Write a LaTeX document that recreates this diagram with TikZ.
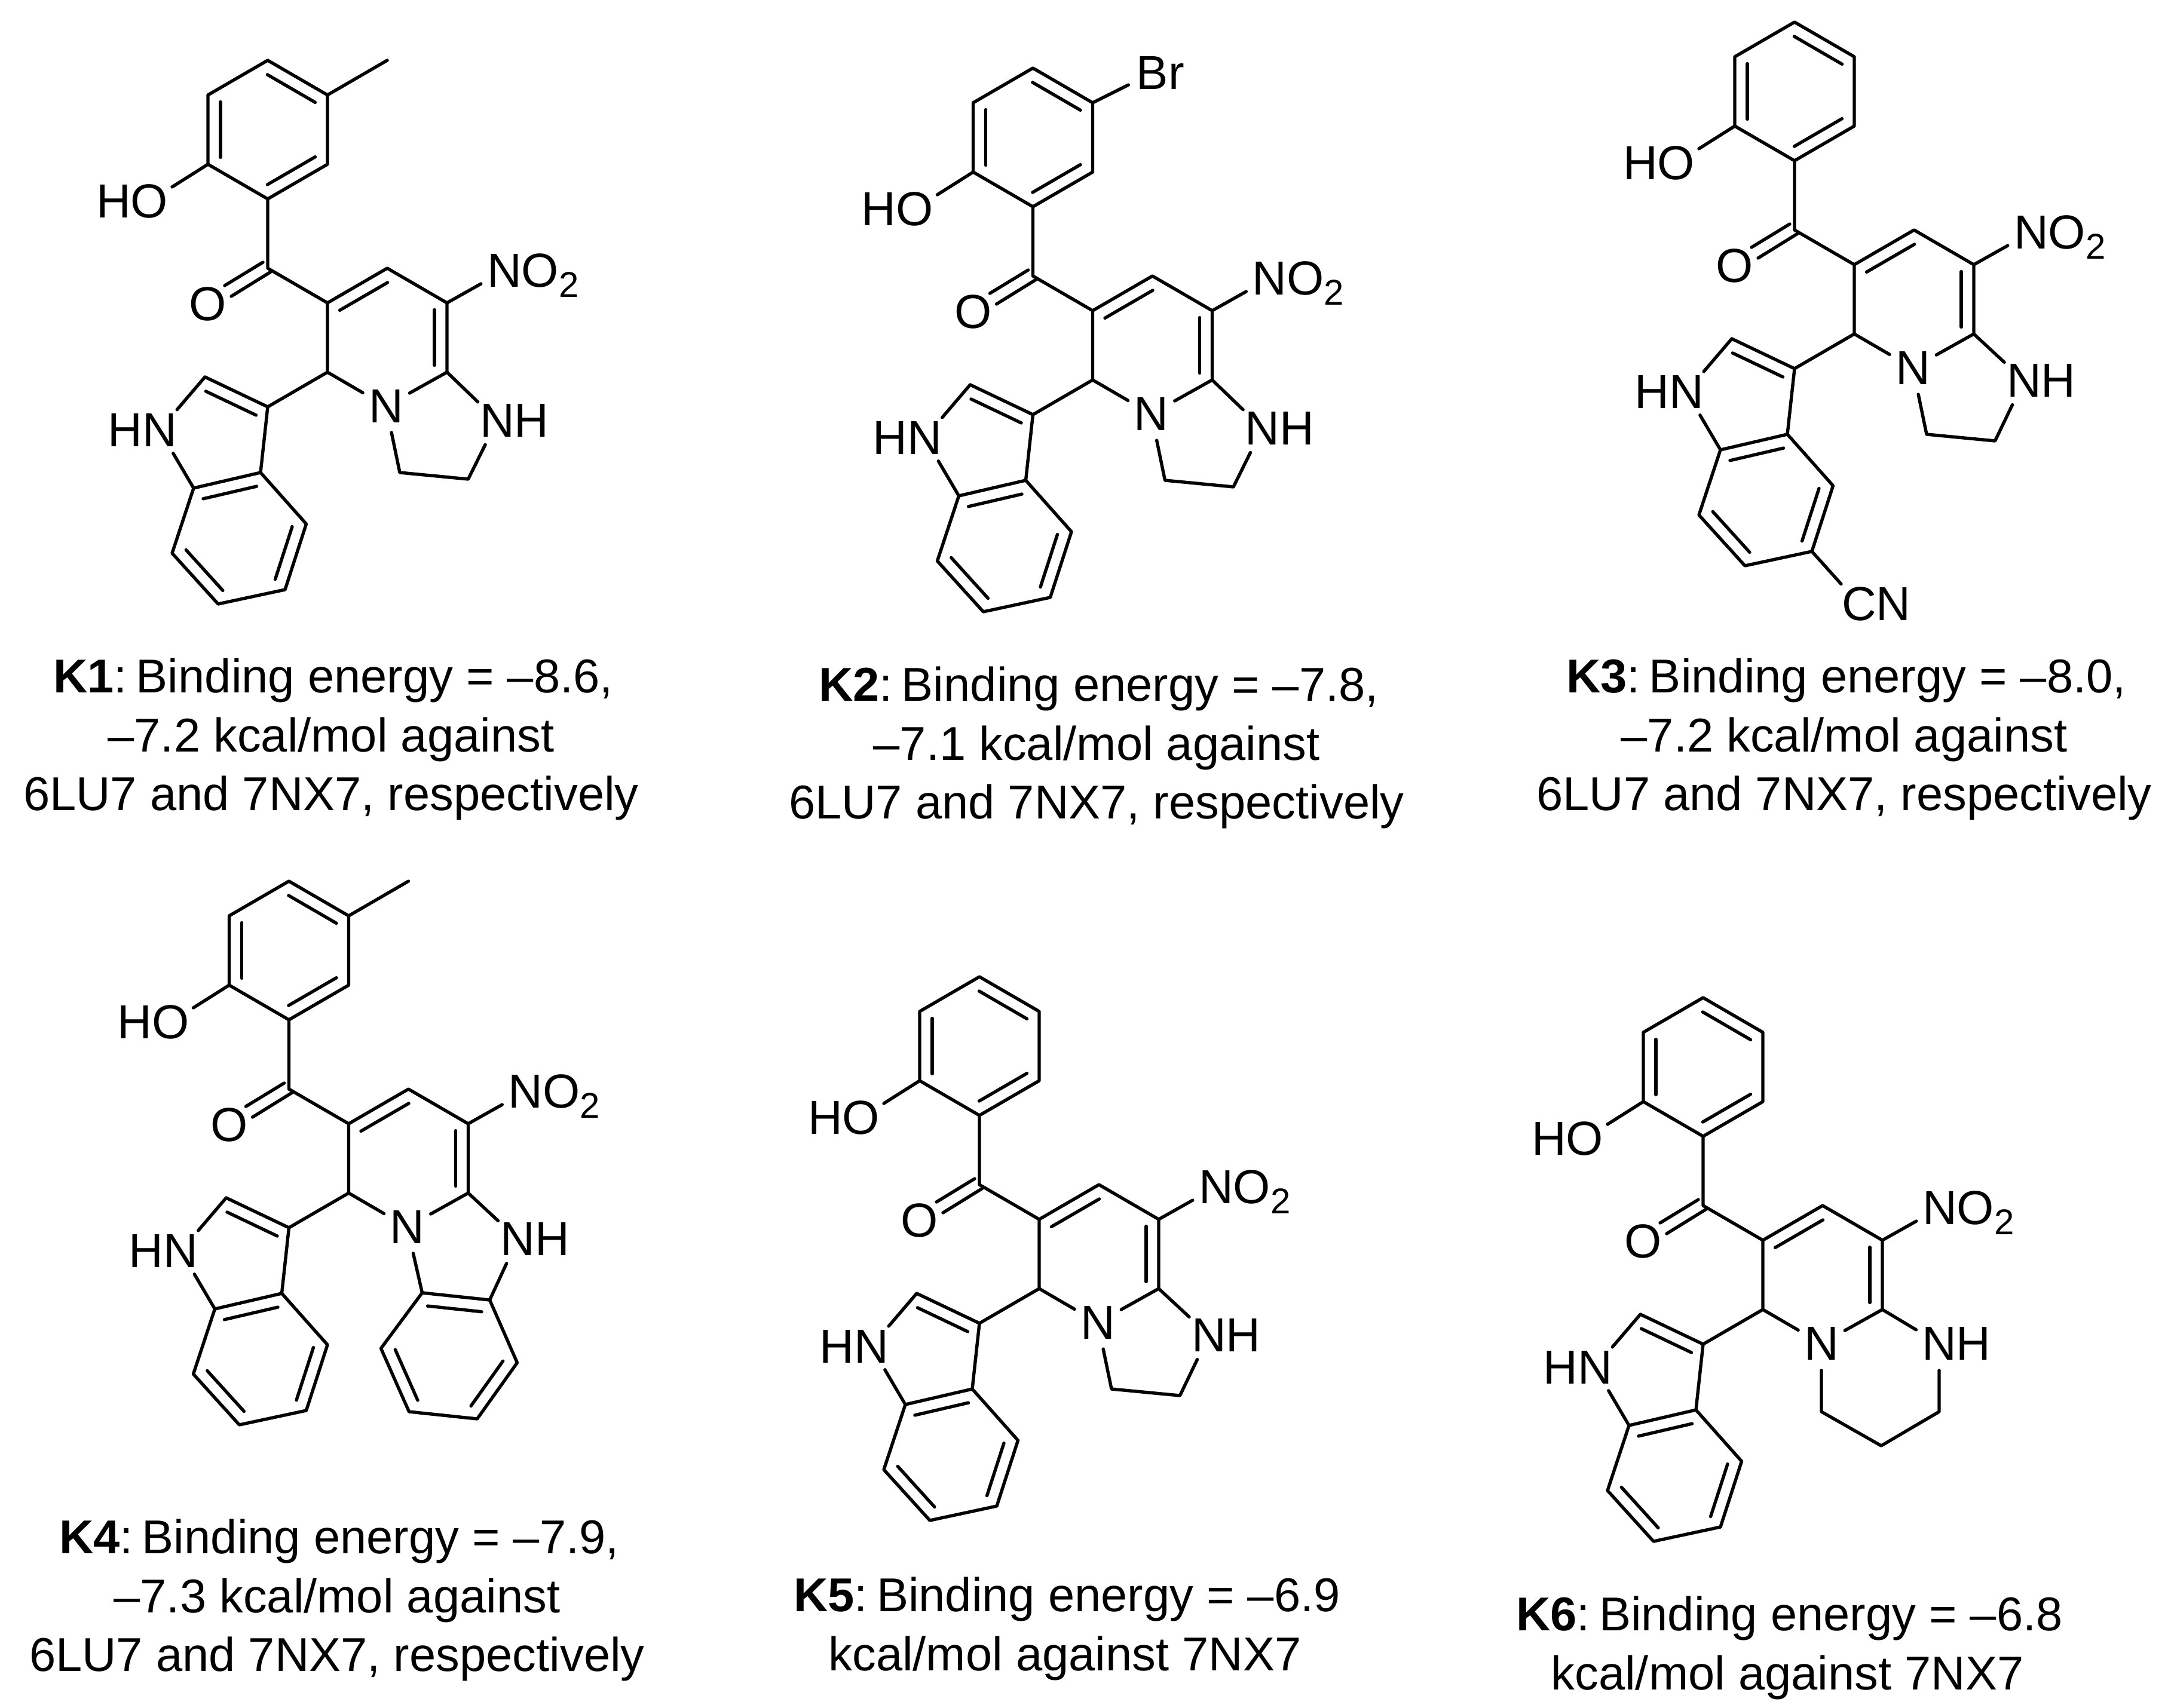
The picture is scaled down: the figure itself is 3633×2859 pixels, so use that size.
\documentclass[tikz,border=0pt]{standalone}
\usepackage{fontspec}
\setmainfont{Liberation Sans}
\usetikzlibrary{calc}
\newcommand\labfont{\fontsize{80}{90}\selectfont}
\newcommand\capfont{\fontsize{79.5}{98.5}\selectfont}
\newcommand\kname[1]{\kern7pt\textbf{#1}:\kern-7pt\ }
\tikzset{
  bond/.style={line width=5.4pt,line cap=round,line join=round,black},
  atomlabel/.style={circle,minimum size=90pt,inner sep=0pt,outer sep=0pt,font=\labfont,text=black},
  caption/.style={align=center,anchor=north,inner sep=0pt,outer sep=0pt,font=\capfont,text=black}
}
% short parallel line inside a ring (right of travel a to b)
\newcommand\innerbond[2]{\draw[bond] ($(#1)!.1!(#2)!21pt!-90:(#2)$) -- ($(#2)!.1!(#1)!21pt!90:(#1)$);}
\newcommand\core{%
  \coordinate (c) at (0,0);
  \coordinate (a1) at (0,-348); \coordinate (a2) at (100,-290); \coordinate (a3) at (100,-174);
  \coordinate (a4) at (0,-116); \coordinate (a5) at (-100,-174); \coordinate (a6) at (-100,-290);
  \coordinate (b1) at (100,58); \coordinate (b2) at (200,0); \coordinate (b3) at (300,58);
  \coordinate (b4) at (300,174); \coordinate (b6) at (100,174);
  \coordinate (i3) at (0,232); \coordinate (i2) at (-105,182); \coordinate (i3a) at (-12,342);
  \coordinate (i7a) at (-124,368); \coordinate (i4) at (64.5,428); \coordinate (i5) at (29,538);
  \coordinate (i6) at (-83,562); \coordinate (i7) at (-160,477);
  \coordinate (co1a) at (-8,-10); \coordinate (co1b) at (-72,29);
  \coordinate (co2a) at (4.7,6.3); \coordinate (co2b) at (-61,47);
  \node[atomlabel] (oh) at (-198,-112) {\llap{H}O};
  \node[atomlabel] (o) at (-100,60) {O};
  \node[atomlabel] (n) at (198,231) {N};
  \node[atomlabel] (no2) at (396,4) {N\rlap{\smash{O\raisebox{-17pt}{\fontsize{60}{60}\selectfont 2}}}};
  \node[atomlabel] (hn) at (-181,271) {\llap{H}N};
  \draw[bond] (a1)--(a2)--(a3)--(a4)--(a5)--(a6)--cycle;
  \innerbond{a1}{a2}\innerbond{a3}{a4}\innerbond{a5}{a6}
  \draw[bond] (a5)--(oh);
  \draw[bond] (a4)--(c)--(b1)--(b2)--(b3)--(b4);
  \draw[bond] (b1)--(b6)--(i3);
  \draw[bond] (b3)--(no2);
  \draw[bond] (b6)--(n);
  \draw[bond] (b4)--(n);
  \innerbond{b1}{b2}\innerbond{b3}{b4}
  \draw[bond] (co1a)--(co1b);
  \draw[bond] (co2a)--(co2b);
  \draw[bond] (hn)--(i2)--(i3)--(i3a)--(i7a)--(hn);
  \innerbond{i2}{i3}\innerbond{i7a}{i3a}
  \draw[bond] (i3a)--(i4)--(i5)--(i6)--(i7)--(i7a);
  \innerbond{i4}{i5}\innerbond{i6}{i7}
}
% five-membered saturated ring
\newcommand\imidazoline[1]{%
  \node[atomlabel] (nh) at (384,#1) {N\rlap{H}};
  \coordinate (j1) at (221,342); \coordinate (j2) at (335.5,353);
  \draw[bond] (b4)--(nh);
  \draw[bond] (n)--(j1)--(j2)--(nh);
}
\begin{document}
\begin{tikzpicture}[x=1pt,y=-1pt]
\useasboundingbox (0,0) rectangle (3633,2859);
\fill[white] (0,0) rectangle (3633,2859);

% K1
\begin{scope}[shift={(448,449)},name prefix=k1-]
  \core\imidazoline{255}
  \coordinate (me) at (200,-348);
  \draw[bond] (a2)--(me);
\end{scope}
\node[caption] (k1cap) at (554,1102) {\kname{K1}Binding energy = –8.6,\\–7.2 kcal/mol against\\6LU7 and 7NX7, respectively};

% K2
\begin{scope}[shift={(1728.5,462)},name prefix=k2-]
  \core\imidazoline{255}
  \node[atomlabel] (br) at (200,-340) {B\rlap{r}};
  \draw[bond] (a2)--(br);
\end{scope}
\node[caption] (k2cap) at (1835,1116) {\kname{K2}Binding energy = –7.8,\\–7.1 kcal/mol against\\6LU7 and 7NX7, respectively};

% K3
\begin{scope}[shift={(3003,385)},name prefix=k3-]
  \core\imidazoline{252}
  \node[atomlabel] (cn) at (108,626) {C\rlap{N}};
  \draw[bond] (i5)--(cn);
\end{scope}
\node[caption] (k3cap) at (3086,1102) {\kname{K3}Binding energy = –8.0,\\–7.2 kcal/mol against\\6LU7 and 7NX7, respectively};

% K4
\begin{scope}[shift={(483.5,1823)},name prefix=k4-]
  \core
  \node[atomlabel] (nh) at (383,251) {N\rlap{H}};
  \coordinate (me) at (200,-348);
  \draw[bond] (a2)--(me);
  \coordinate (j1) at (223,341); \coordinate (j2) at (336,353); \coordinate (j3) at (382,458);
  \coordinate (j4) at (315,552); \coordinate (j5) at (201,540); \coordinate (j6) at (154,434);
  \draw[bond] (b4)--(nh);
  \draw[bond] (n)--(j1);
  \draw[bond] (nh)--(j2);
  \draw[bond] (j1)--(j2)--(j3)--(j4)--(j5)--(j6)--cycle;
  \innerbond{j1}{j2}\innerbond{j3}{j4}\innerbond{j5}{j6}
\end{scope}
\node[caption] (k4cap) at (564,2543) {\kname{K4}Binding energy = –7.9,\\–7.3 kcal/mol against\\6LU7 and 7NX7, respectively};

% K5
\begin{scope}[shift={(1639,1983)},name prefix=k5-]
  \core\imidazoline{252}
\end{scope}
\node[caption] (k5cap) at (1782,2640) {\kname{K5}Binding energy = –6.9\\kcal/mol against 7NX7};

% K6
\begin{scope}[shift={(2850,2018)},name prefix=k6-]
  \core
  \node[atomlabel] (nh) at (395,231) {N\rlap{H}};
  \coordinate (p1) at (395,345); \coordinate (p2) at (298,402); \coordinate (p3) at (198,345);
  \draw[bond] (b4)--(nh);
  \draw[bond] (nh)--(p1)--(p2)--(p3)--(n);
\end{scope}
\node[caption] (k6cap) at (2991,2672) {\kname{K6}Binding energy = –6.8\\kcal/mol against 7NX7};
\end{tikzpicture}
\end{document}
